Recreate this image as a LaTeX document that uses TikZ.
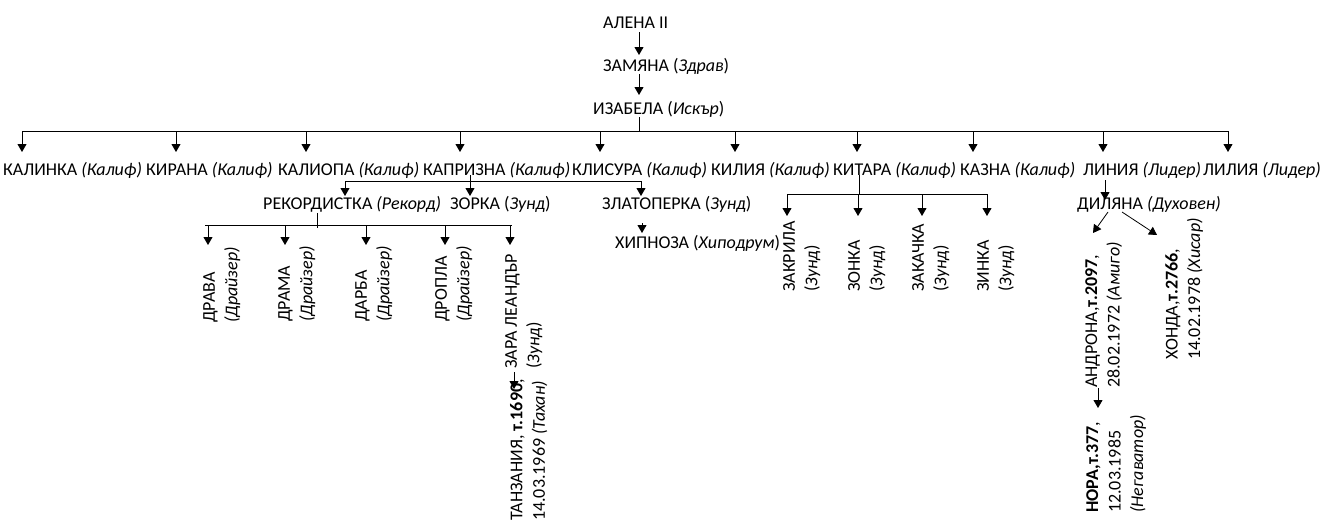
\documentclass[tikz,border=0pt]{standalone}
\usepackage{fontspec}
\setmainfont{Carlito}
\usepackage{tikz}
\usetikzlibrary{arrows.meta}
\tikzstyle{horse} = [anchor=base west, inner sep=0pt]
\tikzstyle{turned} = [rotate=90, anchor=north west, align=left, inner sep=0pt]
\tikzstyle{link} = [line width=0.8pt]
\tikzstyle{arrow} = [line width=0.8pt, -{Triangle[length=8pt,width=9pt]}]

\begin{document}
\begin{tikzpicture}[x=1pt, y=-1pt, font=\fontsize{18}{22.5}\selectfont]
    \useasboundingbox (0,0) rectangle (1321,528);
    % Nodes
    \node (alena) [horse] at (603,28) {АЛЕНА II};
    \node (zamyana) [horse] at (603,71) {ЗАМЯНА (\textit{Здрав})};
    \node (izabela) [horse] at (593,114) {ИЗАБЕЛА (\textit{Искър})};
    \node (kalinka) [horse] at (3,175) {КАЛИНКА \textit{(Калиф)}};
    \node (kirana) [horse] at (146,175) {КИРАНА \textit{(Калиф)}};
    \node (kaliopa) [horse] at (278,175) {КАЛИОПА \textit{(Калиф)}};
    \node (kaprizna) [horse] at (423,175) {КАПРИЗНА \textit{(Калиф)}};
    \node (klisura) [horse] at (572,175) {КЛИСУРА \textit{(Калиф)}};
    \node (kiliya) [horse] at (711,175) {КИЛИЯ \textit{(Калиф)}};
    \node (kitara) [horse] at (833,175) {КИТАРА \textit{(Калиф)}};
    \node (kazna) [horse] at (960,175) {КАЗНА \textit{(Калиф)}};
    \node (liniya) [horse] at (1083,175) {ЛИНИЯ \textit{(Лидер)}};
    \node (liliya) [horse] at (1203,175) {ЛИЛИЯ \textit{(Лидер)}};
    \node (rekord) [horse] at (263,209) {РЕКОРДИСТКА \textit{(Рекорд)}};
    \node (zorka) [horse] at (450,209) {ЗОРКА (\textit{Зунд})};
    \node (zlatoperka) [horse] at (602,209) {ЗЛАТОПЕРКА (\textit{Зунд})};
    \node (hipnoza) [horse] at (615,248) {ХИПНОЗА (\textit{Хиподрум})};
    \node (diliana) [horse] at (1077,209) {ДИЛЯНА \textit{(Духовен)}};
    \node (drava) [turned] at (203,323) {ДРАВА\\\textit{(Драйзер)}};
    \node (drama) [turned] at (278,322) {ДРАМА\\\textit{(Драйзер)}};
    \node (darba) [turned] at (355,322) {ДАРБА\\\textit{(Драйзер)}};
    \node (dropla) [turned] at (435,322) {ДРОПЛА\\\textit{(Драйзер)}};
    \node (zara) [turned] at (505,369) {ЗАРА ЛЕАНДЪР\\(\textit{Зунд})};
    \node (tanzania) [turned] at (510,521) {ТАНЗАНИЯ, \textbf{т.1690},\\14.03.1969 \textit{(Тахан)}};
    \node (zakrila) [turned] at (783,292) {ЗАКРИЛА\\(\textit{Зунд})};
    \node (zonka) [turned] at (848,292) {ЗОНКА\\(\textit{Зунд})};
    \node (zakachka) [turned] at (912,292) {ЗАКАЧКА\\(\textit{Зунд})};
    \node (zinka) [turned] at (977,292) {ЗИНКА\\(\textit{Зунд})};
    \node (androna) [turned] at (1085,388) {АНДРОНА,\textbf{т.2097},\\28.02.1972 \textit{(Амиго)}};
    \node (honda) [turned] at (1165,360) {ХОНДА,\textbf{т.2766},\\14.02.1978 \textit{(Хисар)}};
    \node (nora) [turned] at (1086,513) {\textbf{НОРА,т.377},\\12.03.1985\\\textit{(Негаватор)}};
    % Arrows
    \draw [arrow] (alena.base west) ++(36,4) -- ++(0,23);
    \draw [arrow] (zamyana.base west) ++(36,3) -- ++(0,21);
    \draw [link] (izabela.base west) ++(46,3) -- ++(0,14);
    \draw [link] (kalinka.base west) ++(19,-44) -- ++(1206,0);
    \draw [arrow] (kalinka.base west) ++(19,-44) -- ++(0,21);
    \draw [arrow] (kirana.base west) ++(30,-44) -- ++(0,21);
    \draw [arrow] (kaliopa.base west) ++(28,-44) -- ++(0,21);
    \draw [arrow] (kaprizna.base west) ++(37,-44) -- ++(0,21);
    \draw [arrow] (klisura.base west) ++(28,-44) -- ++(0,21);
    \draw [arrow] (kiliya.base west) ++(24,-44) -- ++(0,21);
    \draw [arrow] (kitara.base west) ++(24,-44) -- ++(0,21);
    \draw [arrow] (kazna.base west) ++(13,-44) -- ++(0,21);
    \draw [arrow] (liniya.base west) ++(20,-44) -- ++(0,21);
    \draw [arrow] (liliya.base west) ++(25,-44) -- ++(0,21);
    % Kaprizna
    \draw [arrow] (kaprizna.base west) ++(47,0) -- ++(0,21);
    \draw [link] (rekord.base west) ++(82,-28) -- ++(296,0);
    \draw [arrow] (rekord.base west) ++(82,-28) -- ++(0,15);
    \draw [arrow] (zlatoperka.base west) ++(39,-28) -- ++(0,15);
    \draw [arrow] (zlatoperka.base west) ++(40,14) -- ++(0,10);
    % Rekordistka
    \draw [link] (rekord.base west) ++(54,4) -- ++(0,15);
    \draw [link] (rekord.base west) ++(-58,16) -- ++(307,0);
    \draw [arrow] (rekord.base west) ++(-55,16) -- ++(0,20);
    \draw [arrow] (rekord.base west) ++(22,16) -- ++(0,20);
    \draw [arrow] (rekord.base west) ++(103,16) -- ++(0,20);
    \draw [arrow] (rekord.base west) ++(182,16) -- ++(0,20);
    \draw [arrow] (rekord.base west) ++(247,16) -- ++(0,20);
    \draw [arrow] (zara.north west) ++(9,3) -- ++(0,17);
    % Kitara
    \draw [link] (kitara.base west) ++(26,0) -- ++(0,19);
    \draw [link] (kitara.base west) ++(-46,19) -- ++(200,0);
    \draw [arrow] (kitara.base west) ++(-46,19) -- ++(0,22);
    \draw [arrow] (kitara.base west) ++(25,19) -- ++(0,22);
    \draw [arrow] (kitara.base west) ++(89,19) -- ++(0,22);
    \draw [arrow] (kitara.base west) ++(154,19) -- ++(0,22);
    % Liniya
    \draw [arrow] (liniya.base west) ++(22,5) -- ++(0,20);
    \draw [arrow] (diliana.base west) ++(31,3) -- ++(-15,21);
    \draw [arrow] (diliana.base west) ++(45,3) -- ++(35,23);
    \draw [arrow] (androna.north west) ++(13,0) -- ++(0,20);
\end{tikzpicture}
\end{document}
